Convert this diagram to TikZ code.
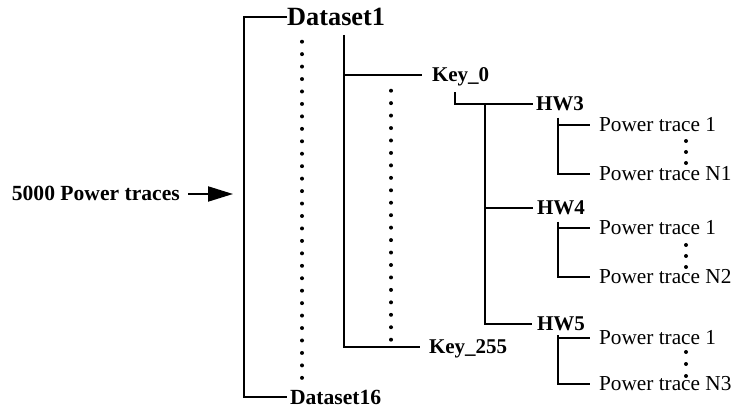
\documentclass[tikz,border=0pt]{standalone}
\usepackage{fontspec}
\setmainfont{Liberation Serif}
\usepackage{tikz}
\usetikzlibrary{arrows.meta, positioning, calc}

\begin{document}
\begin{tikzpicture}[
        x=1pt, y=-1pt,
        lab/.style={anchor=west, inner sep=0pt, text depth=0pt, text height=13.9pt, font=\fontsize{21}{25}\selectfont\bfseries},
        keyname/.style={lab, outer xsep=10pt},
        hwname/.style={lab, outer xsep=3pt},
        leaf/.style={lab, outer xsep=9pt, font=\fontsize{21.3}{25}\selectfont},
        tree/.style={line width=2pt},
        dots/.style={line width=4pt, line cap=round, dash pattern=on 0pt off #1},
        dots/.default=12.45pt,
        arr/.style={-{Triangle[length=25pt, width=15pt]}, line width=2pt}
    ]
        \useasboundingbox (0,0) rectangle (741,411);

        \node[lab, text height=17.2pt, font=\fontsize{26.3}{30}\selectfont\bfseries] (ds1) at (287,17) {Dataset1};
        \node[lab, outer xsep=3pt, text height=14.3pt, font=\fontsize{21.6}{25}\selectfont\bfseries] (ds16) at (287,397) {Dataset16};
        \node[lab, anchor=east, font=\fontsize{21.6}{25}\selectfont\bfseries] (src) at (180,194) {5000 Power traces};
        \coordinate (in) at (233,194);

        \node[keyname] (key0) at (422,75) {Key\_0};
        \node[keyname, outer xsep=9pt] (key255) at (420,347) {Key\_255};

        \node[hwname] (hw3) at (533,104) {HW3};
        \node[hwname, outer xsep=4pt] (hw4) at (533,208) {HW4};
        \node[hwname, outer xsep=5pt] (hw5) at (532,324) {HW5};

        \node[leaf] (p31) at (590,125) {Power trace 1};
        \node[leaf] (p3n) at (590,174) {Power trace N1};
        \node[leaf] (p41) at (590,228) {Power trace 1};
        \node[leaf] (p4n) at (590,277) {Power trace N2};
        \node[leaf] (p51) at (590,338) {Power trace 1};
        \node[leaf] (p5n) at (590,384) {Power trace N3};

        % input arrow
        \draw[arr] ([xshift=8pt]src.east) -- (in);
        % datasets
        \draw[tree] (ds1.west) -- ++(-43,0) |- (ds16.west);
        \draw[dots] (302,41.7) -- (302,378.2);
        % keys
        \coordinate (b2) at (344,35);
        \draw[tree] (b2) |- (key255.west);
        \draw[tree] (b2 |- key0.west) -- (key0.west);
        \draw[dots] (391,90.7) -- (391,340.3);
        % Hamming weights
        \draw[tree] ([shift={(33,10)}]key0.south west) |- (hw3.west);
        \coordinate (trunk) at (485,104);
        \draw[tree] (trunk) |- (hw5.west);
        \draw[tree] (trunk |- hw4.west) -- (hw4.west);
        % traces
        \coordinate (s3) at (558,118);
        \draw[tree] (s3) |- (p31.west);
        \draw[tree] (s3) |- (p3n.west);
        \draw[dots=11pt] (686,141) -- (686,163.5);
        \coordinate (s4) at (558,222);
        \draw[tree] (s4) |- (p41.west);
        \draw[tree] (s4) |- (p4n.west);
        \draw[dots=11pt] (686,245) -- (686,267.5);
        \coordinate (s5) at (558,335);
        \draw[tree] (s5) |- (p51.west);
        \draw[tree] (s5) |- (p5n.west);
        \draw[dots=12pt] (686,352) -- (686,376.5);
    \end{tikzpicture}
\end{document}
